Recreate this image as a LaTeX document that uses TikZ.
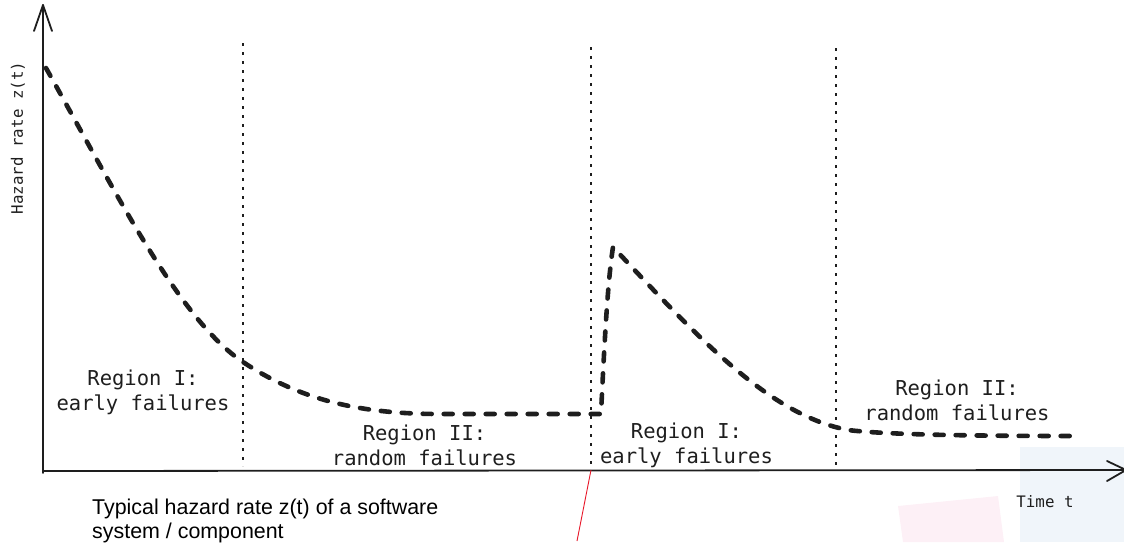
\documentclass[tikz,border=0pt]{standalone}
\usepackage{fontspec}
\newfontfamily\monofont{DejaVu Sans Mono}
\newfontfamily\capfont{Liberation Sans}
\definecolor{ink}{HTML}{1E1E1E}
\definecolor{patchblue}{HTML}{F0F5FA}
\definecolor{patchpink}{HTML}{FDF0F6}
\definecolor{pointer}{HTML}{E8182A}
\tikzset{
  axis/.style={draw=ink, line width=1.8pt, line cap=round, line join=round},
  divider/.style={draw=ink, line width=1.3pt, dash pattern=on 2.5pt off 6.5pt},
  hazard/.style={draw=ink, line width=4.6pt, line cap=round, line join=round,
                 dash pattern=on 9pt off 12pt},
  region/.style={font=\monofont\fontsize{20.5}{25}\selectfont, text=ink,
                 align=center, inner sep=0pt, anchor=north},
  smalllabel/.style={font=\monofont\fontsize{15.8}{18}\selectfont, text=ink, inner sep=0pt},
  caption/.style={font=\capfont\fontsize{21.4}{24.5}\selectfont, text=black,
                  align=left, inner sep=0pt, anchor=north west},
}
\begin{document}
\begin{tikzpicture}[x=1pt, y=-1pt]
\useasboundingbox (0,0) rectangle (1124,542);

% pale background patches
\fill[patchblue] (1020,447) rectangle (1124,542);
\fill[patchpink] (898,506) -- (998,496) -- (1004,542) -- (903,542) -- cycle;

% axes
\coordinate (origin) at (43,471);
\coordinate (ytip) at (43,5);
\coordinate (xtip) at (1126,470);
\draw[axis] (43,473) -- (ytip);
\draw[axis] (34,31) -- (ytip) -- (52,31);
\draw[axis] (origin) -- (xtip);
\draw[axis] (1107,461) -- (xtip) -- (1107,481);

% region dividers
\coordinate (d1top) at (243,43);  \coordinate (d1bot) at (243,466);
\coordinate (d2top) at (591,47);  \coordinate (d2bot) at (591,470);
\coordinate (d3top) at (836,48);  \coordinate (d3bot) at (836,470);
\draw[divider] (d1top) -- (d1bot);
\draw[divider] (d2top) -- (d2bot);
\draw[divider] (d3top) -- (d3bot);

% hazard rate curve
\draw[hazard] (46,68) .. controls (120,200) and (180,320) .. (243,362)
  .. controls (300,400) and (360,414) .. (440,414) -- (601,414)
  .. controls (605,330) and (608,280) .. (613,247)
  .. controls (700,340) and (770,415) .. (848,430)
  .. controls (880,434) and (950,436) .. (1078,436);

% axis labels
\node[smalllabel, rotate=90] (ylabel) at (18,138) {Hazard rate z(t)};
\node[smalllabel] (xlabel) at (1045,502) {Time t};

% region labels
\node[region] (early1) at (143,369.4) {Region I:\\early failures};
\node[region] (random1) at (424.5,424.4) {Region II:\\random failures};
\node[region] (early2) at (686.5,422.4) {Region I:\\early failures};
\node[region] (random2) at (957,379.4) {Region II:\\random failures};

% caption
\node[caption] (caption) at (92,498.5) {Typical hazard rate z(t) of a software\\system / component};

% pointer line
\coordinate (pointerend) at (577,541);
\draw[pointer, line width=0.9pt] (d2bot) -- (pointerend);
\end{tikzpicture}
\end{document}
